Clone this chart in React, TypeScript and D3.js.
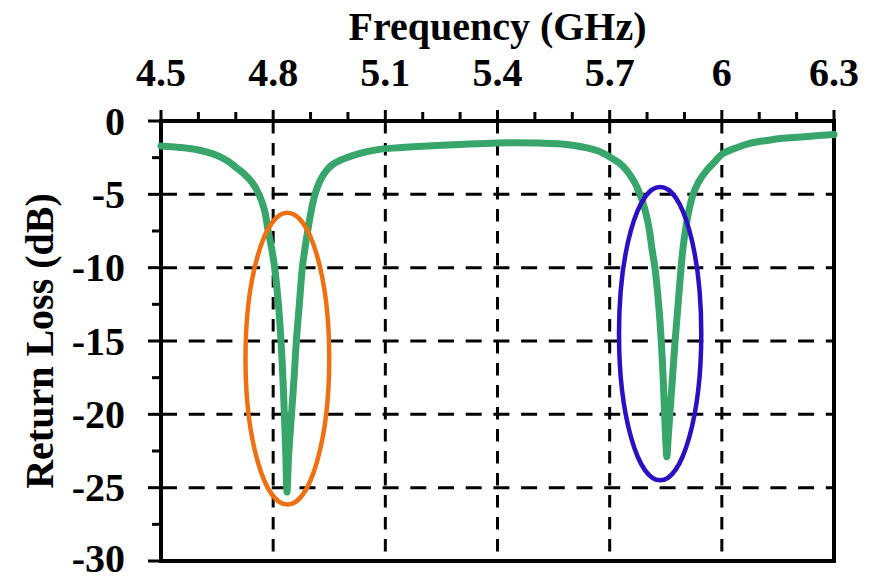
import * as d3 from "d3";
import React, { useEffect, useRef } from "react";

const freqGHz = [
  4.5, 4.55, 4.6, 4.65, 4.68, 4.7, 4.72, 4.744, 4.762, 4.777, 4.786, 4.796,
  4.804, 4.814, 4.821, 4.826, 4.83, 4.834, 4.837, 4.841, 4.849, 4.856, 4.862,
  4.87, 4.878, 4.885, 4.893, 4.902, 4.912, 4.925, 4.943, 4.963, 4.987, 5.032,
  5.08, 5.12, 5.2, 5.3, 5.4, 5.5, 5.6, 5.67, 5.7, 5.725, 5.745, 5.765, 5.781,
  5.795, 5.806, 5.813, 5.821, 5.831, 5.838, 5.843, 5.847, 5.85, 5.853, 5.856,
  5.861, 5.868, 5.875, 5.883, 5.891, 5.896, 5.903, 5.912, 5.923, 5.939, 5.96,
  5.982, 6.001, 6.041, 6.075, 6.12, 6.164, 6.23, 6.3,
];
const returnLossDb = [
  -1.7, -1.8, -1.98, -2.35, -2.75, -3.15, -3.55, -4.2, -5.0, -6.1, -7.4, -8.7,
  -10.0, -12.5, -15.0, -17.5, -20.0, -23.0, -25.3, -23.0, -20.0, -17.5, -15.0,
  -12.5, -10.0, -8.7, -7.4, -6.1, -5.0, -4.1, -3.35, -2.9, -2.6, -2.2, -1.95,
  -1.85, -1.72, -1.6, -1.5, -1.5, -1.65, -2.05, -2.45, -2.85, -3.35, -4.1,
  -5.0, -6.1, -7.4, -8.7, -10.0, -12.5, -15.0, -17.5, -20.0, -21.8, -22.9,
  -21.8, -20.0, -17.5, -15.0, -12.5, -10.0, -8.7, -7.4, -6.1, -5.0, -4.1,
  -3.35, -2.75, -2.25, -1.8, -1.52, -1.33, -1.18, -1.05, -0.92,
];

const xTicks = [4.5, 4.8, 5.1, 5.4, 5.7, 6.0, 6.3];
const xTickLabels = ["4.5", "4.8", "5.1", "5.4", "5.7", "6", "6.3"];
const xMinorTicks = [4.6, 4.7, 4.9, 5.0, 5.2, 5.3, 5.5, 5.6, 5.8, 5.9, 6.1, 6.2];
const yTicks = [0, -5, -10, -15, -20, -25, -30];
const yMinorTicks = [-2.5, -7.5, -12.5, -17.5, -22.5, -27.5];

// resonance markers: centre (GHz, dB) and radii (GHz, dB)
const markers = [
  { cx: 4.838, cy: -16.2, rx: 0.112, ry: 9.95, color: "#EE7012" },
  { cx: 5.835, cy: -14.5, rx: 0.11, ry: 10.0, color: "#2A10C2" },
];

const width = 873;
const height = 577;
const margin = { top: 121, right: 39, bottom: 16, left: 161 };
const font = "'Liberation Serif', 'Times New Roman', serif";

export default function App() {
  const svgRef = useRef<SVGSVGElement>(null);

  useEffect(() => {
    document.body.style.margin = "0";
    const svg = d3.select(svgRef.current);
    svg.selectAll("*").remove();

    const innerWidth = width - margin.left - margin.right;
    const innerHeight = height - margin.top - margin.bottom;

    const xScale = d3.scaleLinear().domain([4.5, 6.3]).range([0, innerWidth]);
    const yScale = d3.scaleLinear().domain([0, -30]).range([0, innerHeight]);

    const g = svg
      .append("g")
      .attr("transform", `translate(${margin.left}, ${margin.top})`);

    // dashed grid
    g.selectAll(".vgrid")
      .data(xTicks.slice(1, -1))
      .join("line")
      .attr("x1", (d) => xScale(d))
      .attr("x2", (d) => xScale(d))
      .attr("y1", 0)
      .attr("y2", innerHeight)
      .attr("stroke", "#000")
      .attr("stroke-width", 3)
      .attr("stroke-dasharray", "12.5 9.5");

    g.selectAll(".hgrid")
      .data(yTicks.slice(1, -1))
      .join("line")
      .attr("x1", 0)
      .attr("x2", innerWidth)
      .attr("y1", (d) => yScale(d))
      .attr("y2", (d) => yScale(d))
      .attr("stroke", "#000")
      .attr("stroke-width", 3)
      .attr("stroke-dasharray", "16 11.7");

    // top axis ticks (outward)
    g.selectAll(".xmajor")
      .data(xTicks)
      .join("line")
      .attr("x1", (d) => xScale(d))
      .attr("x2", (d) => xScale(d))
      .attr("y1", -11)
      .attr("y2", 0)
      .attr("stroke", "#000")
      .attr("stroke-width", 3);
    g.selectAll(".xminor")
      .data(xMinorTicks)
      .join("line")
      .attr("x1", (d) => xScale(d))
      .attr("x2", (d) => xScale(d))
      .attr("y1", -9)
      .attr("y2", 0)
      .attr("stroke", "#000")
      .attr("stroke-width", 3);

    // left axis ticks (outward)
    g.selectAll(".ymajor")
      .data(yTicks)
      .join("line")
      .attr("x1", -13)
      .attr("x2", 0)
      .attr("y1", (d) => yScale(d))
      .attr("y2", (d) => yScale(d))
      .attr("stroke", "#000")
      .attr("stroke-width", 3);
    g.selectAll(".yminor")
      .data(yMinorTicks)
      .join("line")
      .attr("x1", -9)
      .attr("x2", 0)
      .attr("y1", (d) => yScale(d))
      .attr("y2", (d) => yScale(d))
      .attr("stroke", "#000")
      .attr("stroke-width", 3);

    // frame
    g.append("rect")
      .attr("x", 0)
      .attr("y", 0)
      .attr("width", innerWidth)
      .attr("height", innerHeight)
      .attr("fill", "none")
      .attr("stroke", "#000")
      .attr("stroke-width", 4);

    // tick labels
    g.selectAll(".xlabel")
      .data(xTicks)
      .join("text")
      .attr("x", (d) => xScale(d))
      .attr("y", -35)
      .attr("text-anchor", "middle")
      .style("font-family", font)
      .style("font-weight", "bold")
      .style("font-size", "40px")
      .text((d, i) => xTickLabels[i]);

    g.selectAll(".ylabel")
      .data(yTicks)
      .join("text")
      .attr("x", -36)
      .attr("y", (d) => Math.min(yScale(d) + 13.5, innerHeight + 11))
      .attr("text-anchor", "end")
      .style("font-family", font)
      .style("font-weight", "bold")
      .style("font-size", "40px")
      .text((d) => `${d}`);

    // axis titles
    svg
      .append("text")
      .attr("x", margin.left + innerWidth / 2)
      .attr("y", 40)
      .attr("text-anchor", "middle")
      .style("font-family", font)
      .style("font-weight", "bold")
      .style("font-size", "40px")
      .text("Frequency (GHz)");

    svg
      .append("text")
      .attr("transform", `translate(53, ${margin.top + innerHeight / 2}) rotate(-90)`)
      .attr("text-anchor", "middle")
      .style("font-family", font)
      .style("font-weight", "bold")
      .style("font-size", "40px")
      .text("Return Loss (dB)");

    // curve
    const points = freqGHz.map((f, i) => [f, returnLossDb[i]] as [number, number]);
    const lineGenerator = d3
      .line<[number, number]>()
      .x((d) => xScale(d[0]))
      .y((d) => yScale(d[1]))
      .curve(d3.curveCatmullRom.alpha(0.5));

    g.append("path")
      .attr("d", lineGenerator(points))
      .attr("fill", "none")
      .attr("stroke", "#38A66B")
      .attr("stroke-width", 7)
      .attr("stroke-linecap", "round")
      .attr("stroke-linejoin", "round");

    // ellipses
    g.selectAll(".marker")
      .data(markers)
      .join("ellipse")
      .attr("cx", (d) => xScale(d.cx))
      .attr("cy", (d) => yScale(d.cy))
      .attr("rx", (d) => xScale(d.cx + d.rx) - xScale(d.cx))
      .attr("ry", (d) => yScale(d.cy - d.ry) - yScale(d.cy))
      .attr("fill", "none")
      .attr("stroke", (d) => d.color)
      .attr("stroke-width", 4.5);
  }, []);

  return (
    <svg
      ref={svgRef}
      width={width}
      height={height}
      style={{ display: "block", background: "#fff" }}
    ></svg>
  );
}
